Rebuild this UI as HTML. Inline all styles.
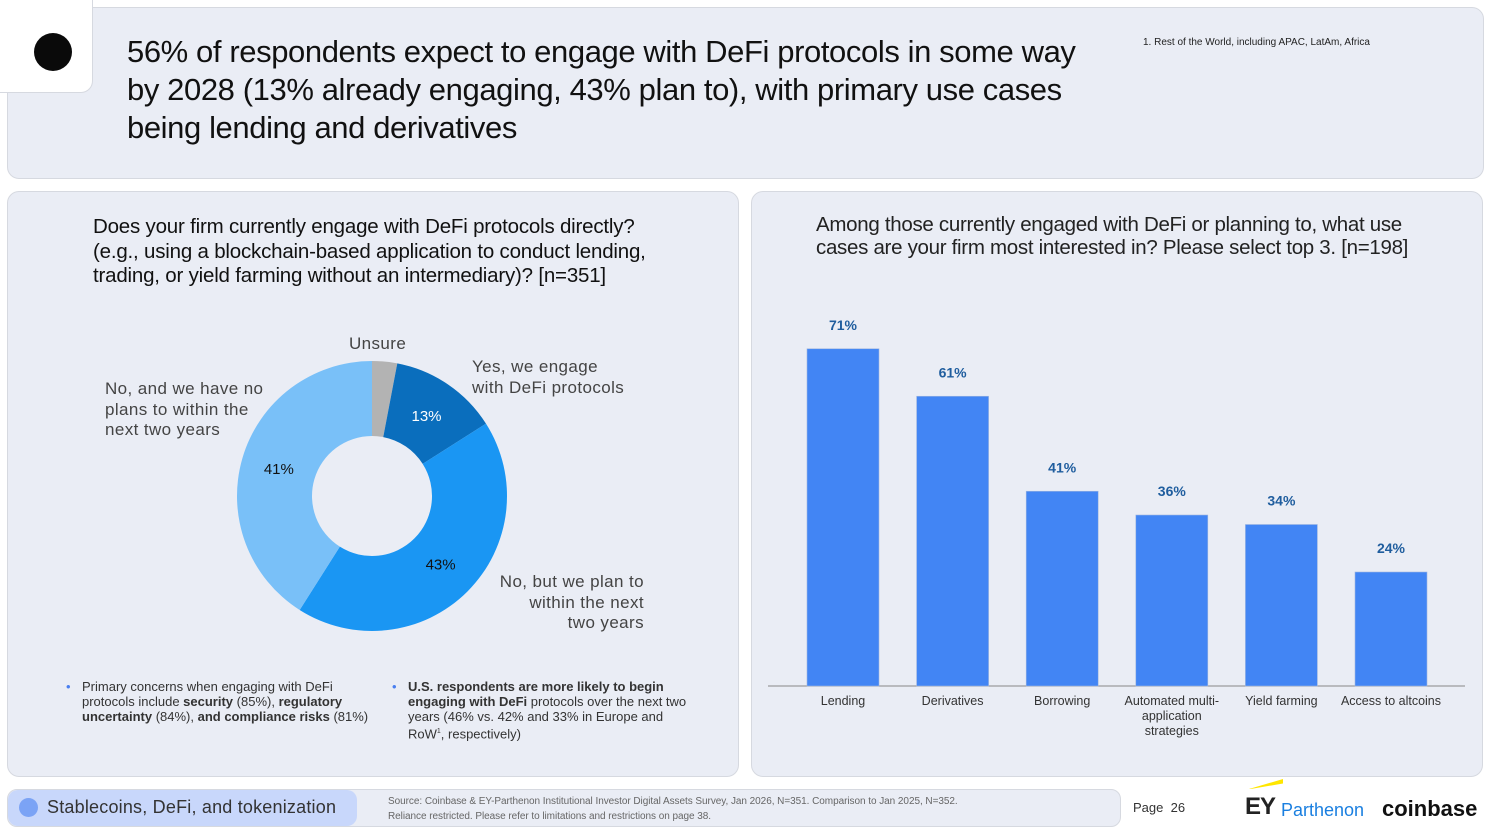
<!DOCTYPE html>
<html><head><meta charset="utf-8"><style>
body{margin:0;width:1489px;height:833px;background:#fff;font-family:"Liberation Sans",sans-serif;position:relative;overflow:hidden;color:#111}
.p{position:absolute;background:#eaedf5;border:1px solid #d6d9e0;border-radius:12px;box-sizing:border-box}
.t{position:absolute;white-space:nowrap}
.lbl{position:absolute;font-size:17px;color:#444;line-height:20.5px;letter-spacing:0.4px}
.bl{position:absolute;font-size:13px;line-height:15px;color:#333;padding-left:16px;white-space:nowrap}
.bl::before{content:"•";position:absolute;left:0;top:0;color:#4a7ff0}
</style></head><body>
<div class="p" style="left:7px;top:7px;width:1477px;height:172px"></div>
<div style="position:absolute;left:0;top:0;width:92px;height:92px;background:#fff;border-bottom-right-radius:12px;border-right:1px solid #d6d9e0;border-bottom:1px solid #d6d9e0"></div>
<div style="position:absolute;left:34px;top:33px;width:38px;height:38px;border-radius:50%;background:#0a0a0a"></div>
<div class="t" style="left:127px;top:33px;font-size:31px;line-height:38px;letter-spacing:-0.4px">56% of respondents expect to engage with DeFi protocols in some way<br>by 2028 (13% already engaging, 43% plan to), with primary use cases<br>being lending and derivatives</div>
<div class="t" style="left:1143px;top:37px;font-size:10px;color:#222">1. Rest of the World, including APAC, LatAm, Africa</div>

<div class="p" style="left:7px;top:191px;width:732px;height:586px"></div>
<div class="p" style="left:751px;top:191px;width:732px;height:586px"></div>

<div class="t" style="left:93px;top:215px;font-size:20.5px;line-height:24.5px;letter-spacing:-0.2px">Does your firm currently engage with DeFi protocols directly?<br>(e.g., using a blockchain-based application to conduct lending,<br>trading, or yield farming without an intermediary)? [n=351]</div>
<div class="t" style="left:816px;top:213px;font-size:20.5px;line-height:23px;letter-spacing:-0.3px;color:#222">Among those currently engaged with DeFi or planning to, what use<br>cases are your firm most interested in? Please select top 3. [n=198]</div>

<svg id="donut" style="position:absolute;left:0;top:0" width="740" height="660"></svg>
<div class="lbl" style="left:349px;top:334px">Unsure</div>
<div class="lbl" style="left:472px;top:357px">Yes, we engage<br>with DeFi protocols</div>
<div class="lbl" style="left:105px;top:379px">No, and we have no<br>plans to within the<br>next two years</div>
<div class="lbl" style="left:440px;top:572px;width:204px;text-align:right">No, but we plan to<br>within the next<br>two years</div>

<div class="bl" style="left:66px;top:679px">Primary concerns when engaging with DeFi<br>protocols include <b>security</b> (85%), <b>regulatory</b><br><b>uncertainty</b> (84%), <b>and compliance risks</b> (81%)</div>
<div class="bl" style="left:392px;top:679px"><b>U.S. respondents are more likely to begin</b><br><b>engaging with DeFi</b> protocols over the next two<br>years (46% vs. 42% and 33% in Europe and<br>RoW<sup style="font-size:7px">1</sup>, respectively)</div>

<svg id="bars" style="position:absolute;left:0;top:0" width="1489" height="760"></svg>

<div class="p" style="left:7px;top:789px;width:1114px;height:38px;border-radius:10px"></div>
<div style="position:absolute;left:8px;top:790px;width:349px;height:36px;background:#c8d7fb;border-radius:10px"></div>
<div style="position:absolute;left:19px;top:798px;width:19px;height:19px;border-radius:50%;background:#7ba3f5"></div>
<div class="t" style="left:47px;top:797px;font-size:18px;color:#333;letter-spacing:0.2px">Stablecoins, DeFi, and tokenization</div>
<div class="t" style="left:388px;top:794px;font-size:10px;line-height:15px;color:#666;letter-spacing:-0.05px">Source: Coinbase &amp; EY-Parthenon Institutional Investor Digital Assets Survey, Jan 2026, N=351. Comparison to Jan 2025, N=352.<br>Reliance restricted. Please refer to limitations and restrictions on page 38.</div>
<div class="t" style="left:1133px;top:800px;font-size:13px;color:#333">Page&nbsp; 26</div>
<div style="position:absolute;left:1249px;top:779px;width:34px;height:10px;background:#ffe600;clip-path:polygon(0 100%,100% 0,100% 45%,5% 100%)"></div>
<div class="t" style="left:1245px;top:793px;font-size:24px;font-weight:bold;letter-spacing:-1px;color:#222">EY</div>
<div class="t" style="left:1281px;top:800px;font-size:18px;color:#1a7fe0">Parthenon</div>
<div class="t" style="left:1382px;top:796px;font-size:22px;font-weight:bold;color:#111">coinbase</div>

<script>
const sliceNames=["Unsure","Yes, we engage","No, but we plan to","No, no plans"];
const sliceValues=[3,13,43,41];
const sliceLabels=["","13%","43%","41%"];
const sliceColors=["#b3b3b3","#0a6ebd","#1a96f3","#79c0f8"];
const ns="http://www.w3.org/2000/svg";
(function(){
 const svg=document.getElementById('donut');
 const cx=372,cy=496,R=135,r=60;
 const total=sliceValues.reduce((a,b)=>a+b,0);
 let a0=0;
 sliceValues.forEach((v,i)=>{
  const a1=a0+v/total*2*Math.PI;
  const pt=(rad,a)=>[cx+rad*Math.sin(a),cy-rad*Math.cos(a)];
  const [x0,y0]=pt(R,a0),[x1,y1]=pt(R,a1),[x2,y2]=pt(r,a1),[x3,y3]=pt(r,a0);
  const lg=(a1-a0)>Math.PI?1:0;
  const p=document.createElementNS(ns,'path');
  p.setAttribute('d',`M${x0},${y0}A${R},${R} 0 ${lg} 1 ${x1},${y1}L${x2},${y2}A${r},${r} 0 ${lg} 0 ${x3},${y3}Z`);
  p.setAttribute('fill',sliceColors[i]);
  
  
  svg.appendChild(p);
  if(sliceLabels[i]){
   const am=(a0+a1)/2;const [tx,ty]=pt(97,am);
   const t=document.createElementNS(ns,'text');
   t.setAttribute('x',tx);t.setAttribute('y',ty+5);t.setAttribute('text-anchor','middle');
   t.setAttribute('font-size','15');t.setAttribute('font-family','Liberation Sans, sans-serif');
   t.setAttribute('fill',i==1?'#fff':'#111');t.textContent=sliceLabels[i];
   
   
   svg.appendChild(t);
  }
  a0=a1;
 });
})();

const categories=["Lending","Derivatives","Borrowing","Automated multi-|application|strategies","Yield farming","Access to altcoins"];
const values=[71,61,41,36,34,24];
const valueLabels=["71%","61%","41%","36%","34%","24%"];
(function(){
 const svg=document.getElementById('bars');
 const base=686,pxPer=4.75,x0=843,step=109.6,bw=72;
 const y=v=>base-v*pxPer;
 const x=i=>x0+i*step;
 const ax=document.createElementNS(ns,'line');
 ax.setAttribute('x1',768);ax.setAttribute('x2',1465);ax.setAttribute('y1',base);ax.setAttribute('y2',base);
 ax.setAttribute('stroke','#888');ax.setAttribute('stroke-width','1');
 
 
 svg.appendChild(ax);
 values.forEach((v,i)=>{
  const b=document.createElementNS(ns,'rect');
  b.setAttribute('x',x(i)-bw/2);b.setAttribute('y',y(v));b.setAttribute('width',bw);b.setAttribute('height',base-y(v));
  b.setAttribute('fill','#4285f4');b.setAttribute('stroke','#9fb6e0');b.setAttribute('stroke-width','0.6');
  
  
  svg.appendChild(b);
  const t=document.createElementNS(ns,'text');
  t.setAttribute('x',x(i));t.setAttribute('y',y(v)-19);t.setAttribute('text-anchor','middle');
  t.setAttribute('font-size','14');t.setAttribute('font-weight','bold');t.setAttribute('fill','#1f5d9e');
  t.setAttribute('font-family','Liberation Sans, sans-serif');t.textContent=valueLabels[i];
  
  
  svg.appendChild(t);
  categories[i].split('|').forEach((line,j)=>{
   const c=document.createElementNS(ns,'text');
   c.setAttribute('x',x(i));c.setAttribute('y',705+j*15);c.setAttribute('text-anchor','middle');
   c.setAttribute('font-size','12.5');c.setAttribute('fill','#333');
   c.setAttribute('font-family','Liberation Sans, sans-serif');c.textContent=line;
   
   
   svg.appendChild(c);
  });
 });
})();
</script>
</body></html>
